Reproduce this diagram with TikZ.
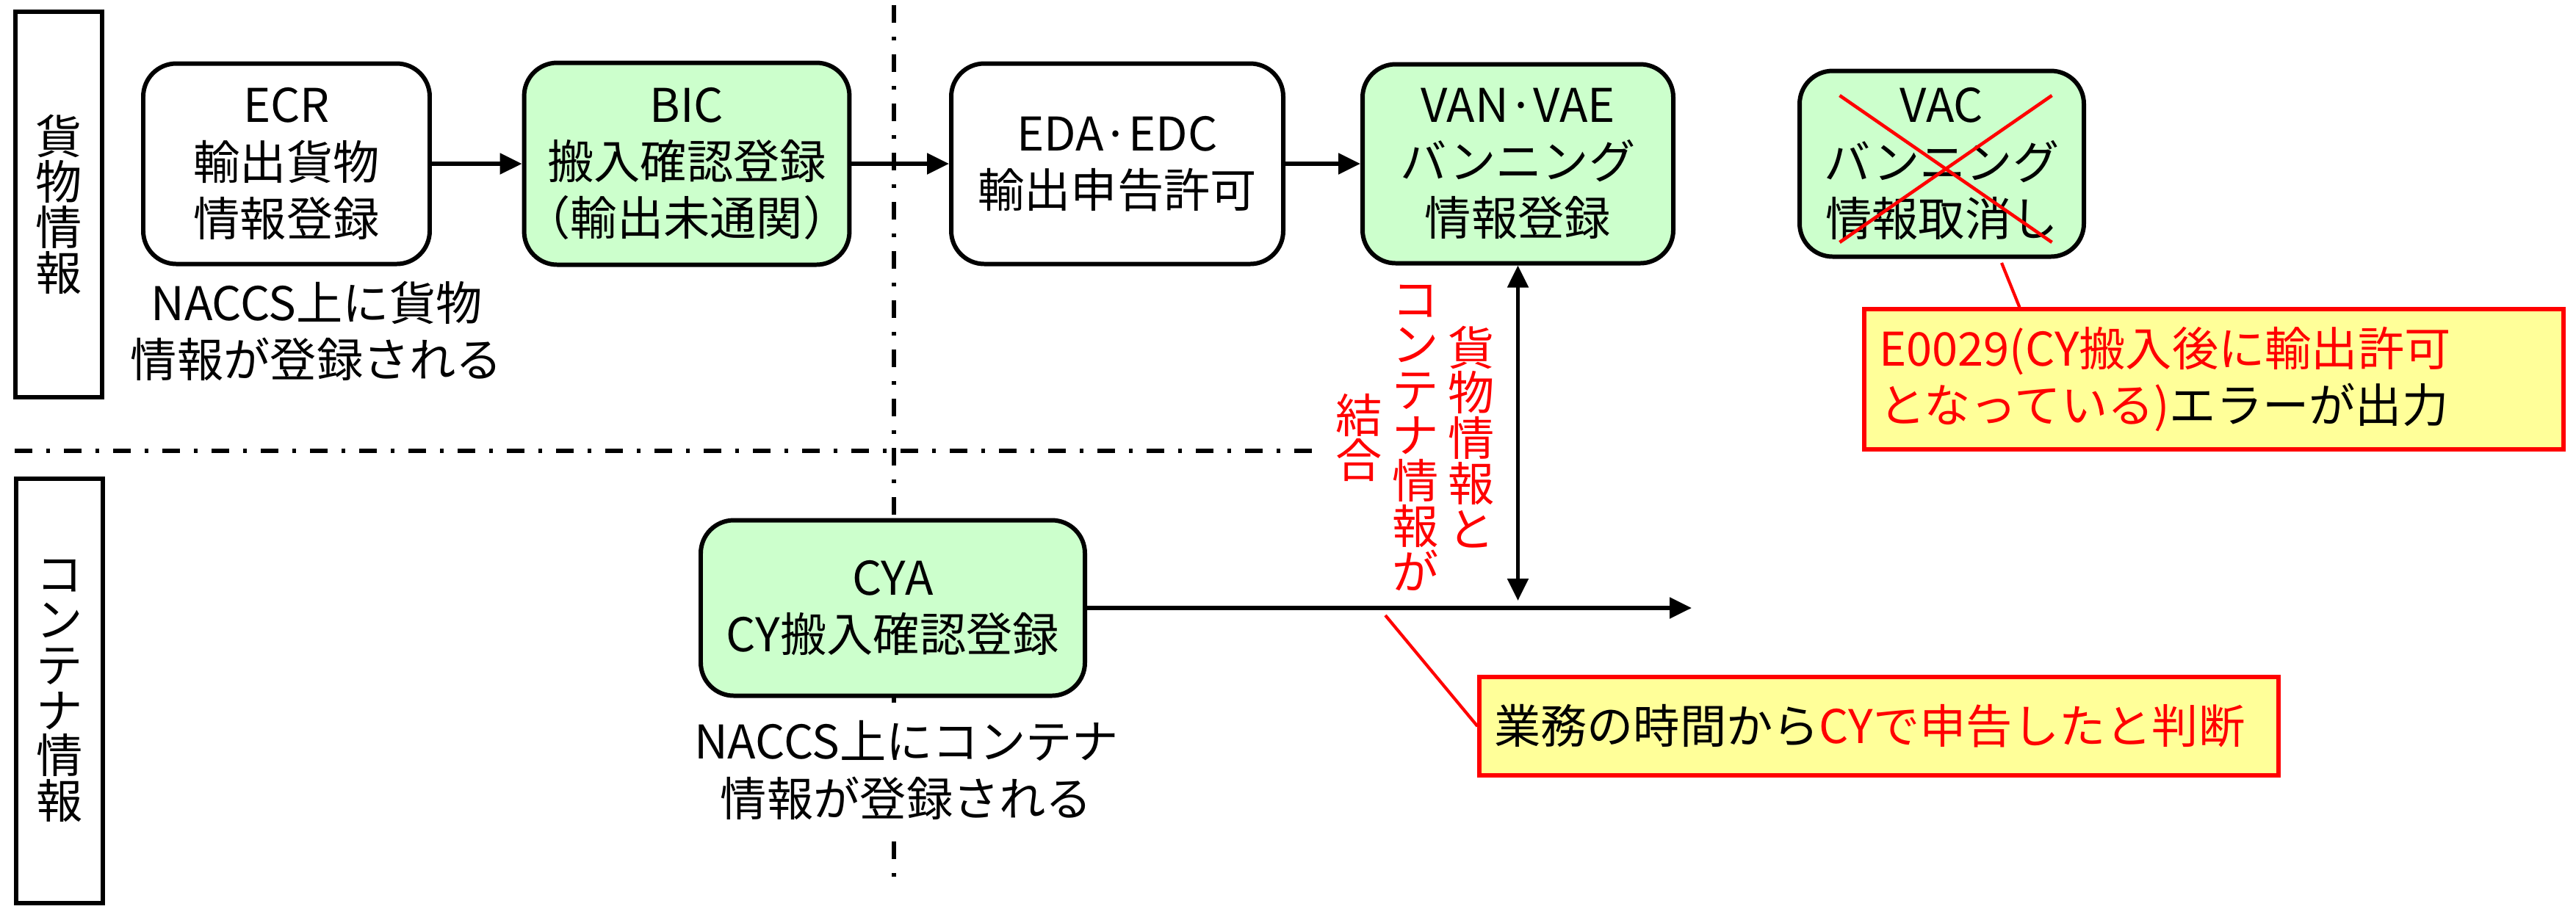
\documentclass[tikz,border=0pt]{standalone}
\usepackage{fontspec}
\setmainfont{Noto Sans CJK JP}
\usetikzlibrary{arrows.meta}
\definecolor{boxgreen}{RGB}{204,255,204}
\definecolor{noteyellow}{RGB}{255,255,153}

\begin{document}
\begin{tikzpicture}[
        every node/.style={font=\fontsize{18}{22}\selectfont, inner sep=0pt},
        vert/.style={align=center, font=\fontsize{18}{17.6}\selectfont},
        lane/.style={vert, draw, line width=1.7pt, minimum width=1.18cm},
        proc/.style={draw, line width=1.7pt, rounded corners=0.45cm, align=center},
        greenbox/.style={proc, fill=boxgreen},
        note/.style={draw=red, line width=1.5pt, fill=noteyellow, align=left, inner xsep=0.2cm},
        flow/.style={line width=1.5pt, -{Triangle[length=0.3cm,width=0.28cm]}},
        both/.style={line width=1.5pt, {Triangle[length=0.3cm,width=0.28cm]}-{Triangle[length=0.3cm,width=0.28cm]}},
        divider/.style={line width=1.6pt, dash pattern=on 0.24cm off 0.19cm on 0.05cm off 0.19cm},
        redline/.style={red, line width=1.2pt}]
    \lineskiplimit=-9pt
    \useasboundingbox (0,0) rectangle (35.07,-12.37);

    \coordinate (vtop) at (12.17,-0.07);
    \coordinate (vbot) at (12.17,-11.97);
    \coordinate (hleft) at (0.20,-6.14);
    \coordinate (hright) at (17.89,-6.14);
    \draw[divider] (vtop) -- (vbot);
    \draw[divider] (hleft) -- (hright);

    \node[lane, minimum height=5.25cm] (cargo) at (0.80,-2.785) {貨\\物\\情\\報};
    \node[lane, minimum height=5.78cm] (cont) at (0.81,-9.41) {コ\\ン\\テ\\ナ\\情\\報};

    \node[proc, minimum width=3.90cm, minimum height=2.73cm] (ecr) at (3.90,-2.23) {ECR\\輸出貨物\\情報登録};
    \node[greenbox, minimum width=4.18cm, minimum height=2.75cm] (bic) at (9.35,-2.23) {BIC\\搬入確認登録\\（輸出未通関）};
    \node[proc, minimum width=4.52cm, minimum height=2.73cm] (eda) at (15.21,-2.23) {EDA·EDC\\輸出申告許可};
    \node[greenbox, minimum width=4.23cm, minimum height=2.71cm] (van) at (20.665,-2.23) {VAN·VAE\\バンニング\\情報登録};
    \node[greenbox, minimum width=3.87cm, minimum height=2.53cm] (vac) at (26.435,-2.23) {VAC\\バンニング\\情報取消し};
    \node[greenbox, minimum width=5.23cm, minimum height=2.39cm] (cya) at (12.155,-8.28) {CYA\\CY搬入確認登録};

    \node[fill=white, inner sep=0.1cm, align=center] (cargonote) at (4.31,-4.51) {NACCS上に貨物\\情報が登録される};
    \node[fill=white, inner xsep=0.1cm, inner ysep=0.25cm, align=center] (contnote) at (12.34,-10.49) {NACCS上にコンテナ\\情報が登録される};

    \node[vert, red] (join1) at (20.03,-5.95) {貨\\物\\情\\報\\と};
    \node[vert, red] (join2) at (19.27,-5.96) {コ\\ン\\テ\\ナ\\情\\報\\が};
    \node[vert, red] (join3) at (18.50,-5.96) {結\\合};

    \node[note, minimum width=9.52cm, minimum height=1.91cm, text width=9.12cm] (err) at (30.14,-5.165)
        {\color{red}E0029(CY搬入後に輸出許可\\となっている)\color{black}エラーが出力};
    \node[note, minimum width=10.88cm, minimum height=1.34cm, text width=10.48cm] (judge) at (25.58,-9.89)
        {業務の時間から\color{red}CYで申告したと判断};

    \draw[flow] (ecr) -- (bic);
    \draw[flow] (bic) -- (eda);
    \draw[flow] (eda) -- (van);

    \coordinate (cyend) at (23.03,-8.28);
    \coordinate (merge) at (20.665,-8.18);
    \draw[flow] (cya) -- (cyend);
    \draw[both] (van) -- (merge);

    \draw[redline, line width=1.3pt] ([shift={(-1.39cm,0.93cm)}]vac.center) -- ([shift={(1.50cm,-1.07cm)}]vac.center);
    \draw[redline, line width=1.3pt] ([shift={(1.50cm,0.93cm)}]vac.center) -- ([shift={(-1.39cm,-1.07cm)}]vac.center);

    \coordinate (vacpt) at (27.25,-3.58);
    \coordinate (cypt) at (18.86,-8.38);
    \draw[redline] (vacpt) -- ([xshift=2.14cm]err.north west);
    \draw[redline] (cypt) -- (judge.west);
\end{tikzpicture}
\end{document}
